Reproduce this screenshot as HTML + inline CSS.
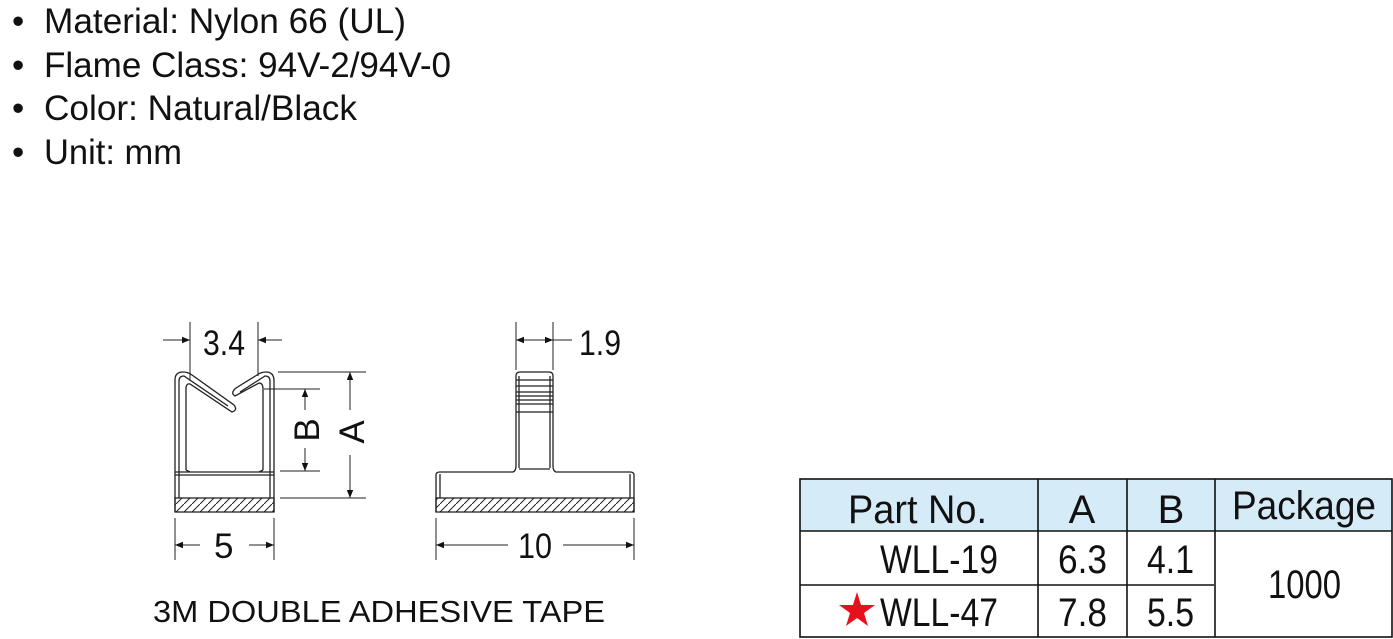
<!DOCTYPE html>
<html><head><meta charset="utf-8"><style>
html,body{margin:0;padding:0;background:#fff;}
svg{display:block;}
text{font-family:"Liberation Sans",Arial,sans-serif;fill:#111;}
</style></head><body>
<svg width="1393" height="639" viewBox="0 0 1393 639" xmlns="http://www.w3.org/2000/svg">
<defs>
<pattern id="h" width="8" height="8" patternUnits="userSpaceOnUse"><path d="M-2 10 L10 -2" stroke="#222" stroke-width="1"/></pattern>
<marker id="ar" viewBox="0 0 10 10" refX="10" refY="5" markerWidth="14" markerHeight="8" orient="auto-start-reverse" markerUnits="userSpaceOnUse"><path d="M0 1 L10 5 L0 9 Z" fill="#111"/></marker>
</defs>
<g font-size="35">
<text x="12" y="33">•</text><text x="44" y="33" textLength="362" lengthAdjust="spacingAndGlyphs">Material: Nylon 66 (UL)</text>
<text x="12" y="77">•</text><text x="44" y="77" textLength="407" lengthAdjust="spacingAndGlyphs">Flame Class: 94V-2/94V-0</text>
<text x="12" y="120">•</text><text x="44" y="120" textLength="313" lengthAdjust="spacingAndGlyphs">Color: Natural/Black</text>
<text x="12" y="164">•</text><text x="44" y="164" textLength="138" lengthAdjust="spacingAndGlyphs">Unit: mm</text>
</g>
<g fill="none" stroke="#222" stroke-width="1.3">
<path d="M175 512 V380 Q175 372 183 372 Q188 372 192 375 L234 405 Q238 410 232 412 L190 384 Q186 383 186 389 V470"/>
<path d="M179 498 V381 Q179 376 184 376 L228 406"/>
<path d="M274 512 V381 Q274 372 266 372 Q261 372 257 375 L236 388 Q230 393 235 396 L259 383 Q263 383 263 389 V470"/>
<path d="M270 498 V381 Q270 376 265 376 L240 392"/>
<path d="M186 470 L190 472 M263 470 L259 472"/>
<line x1="175" y1="472" x2="274" y2="472"/><line x1="175" y1="475" x2="274" y2="475"/>
<rect x="175" y="498" width="99" height="14" fill="url(#h)"/>
<g stroke-width="1">
<line x1="190" y1="322" x2="190" y2="380"/><line x1="258" y1="322" x2="258" y2="376"/>
<line x1="163" y1="340" x2="190" y2="340" marker-end="url(#ar)"/><line x1="282" y1="340" x2="258" y2="340" marker-end="url(#ar)"/>
<line x1="264" y1="389" x2="320" y2="389"/><line x1="280" y1="471" x2="320" y2="471"/>
<line x1="278" y1="372" x2="366" y2="372"/><line x1="280" y1="498" x2="366" y2="498"/>
<line x1="305" y1="410" x2="305" y2="389" marker-end="url(#ar)"/><line x1="305" y1="448" x2="305" y2="471" marker-end="url(#ar)"/>
<line x1="350" y1="410" x2="350" y2="372" marker-end="url(#ar)"/><line x1="350" y1="455" x2="350" y2="498" marker-end="url(#ar)"/>
<line x1="175" y1="518" x2="175" y2="560"/><line x1="274" y1="518" x2="274" y2="560"/>
<line x1="200" y1="545" x2="175" y2="545" marker-end="url(#ar)"/><line x1="249" y1="545" x2="274" y2="545" marker-end="url(#ar)"/>
</g>
</g>
<text x="203" y="355" font-size="35" textLength="42" lengthAdjust="spacingAndGlyphs">3.4</text>
<text x="214" y="558" font-size="35">5</text>
<text transform="translate(319,430) rotate(-90)" font-size="35" text-anchor="middle">B</text>
<text transform="translate(364,432) rotate(-90)" font-size="35" text-anchor="middle">A</text>
<g fill="none" stroke="#222" stroke-width="1.3">
<path d="M436 512 V475 Q436 472 440 472 H513 Q516 471 516 466 V376 Q516 372 520 372 H549 Q553 372 553 376 V466 Q553 471 556 472 H630 Q634 472 634 475 V512"/>
<line x1="519" y1="376" x2="519" y2="468"/><line x1="550" y1="376" x2="550" y2="468"/>
<line x1="440" y1="474" x2="440" y2="498"/><line x1="630" y1="474" x2="630" y2="498"/>
<line x1="516" y1="380" x2="553" y2="380"/><line x1="516" y1="386" x2="553" y2="386"/>
<line x1="516" y1="392" x2="553" y2="392"/><line x1="516" y1="396" x2="553" y2="396"/>
<line x1="516" y1="400" x2="553" y2="400"/><line x1="516" y1="404" x2="553" y2="404"/>
<line x1="516" y1="412" x2="553" y2="412"/>
<line x1="519" y1="469" x2="550" y2="469"/>
<rect x="436" y="498" width="198" height="14" fill="url(#h)"/>
<g stroke-width="1">
<line x1="516" y1="322" x2="516" y2="370"/><line x1="553" y1="322" x2="553" y2="370"/>
<line x1="535" y1="340" x2="516" y2="340" marker-end="url(#ar)"/><line x1="535" y1="340" x2="553" y2="340" marker-end="url(#ar)"/>
<line x1="553" y1="340" x2="572" y2="340"/>
<line x1="436" y1="518" x2="436" y2="560"/><line x1="634" y1="518" x2="634" y2="560"/>
<line x1="508" y1="545" x2="436" y2="545" marker-end="url(#ar)"/><line x1="563" y1="545" x2="634" y2="545" marker-end="url(#ar)"/>
</g>
</g>
<text x="579" y="355" font-size="35" textLength="42" lengthAdjust="spacingAndGlyphs">1.9</text>
<text x="518" y="558" font-size="35" textLength="34" lengthAdjust="spacingAndGlyphs">10</text>
<text x="153" y="622" font-size="31" textLength="452" lengthAdjust="spacingAndGlyphs">3M DOUBLE ADHESIVE TAPE</text>
<rect x="800" y="479" width="592" height="52" fill="#d6ebf8"/>
<g stroke="#111" stroke-width="1.6" fill="none">
<rect x="800" y="479" width="592" height="158"/>
<line x1="800" y1="531" x2="1392" y2="531"/>
<line x1="800" y1="585" x2="1214" y2="585"/>
<line x1="1038" y1="479" x2="1038" y2="637"/>
<line x1="1127" y1="479" x2="1127" y2="637"/>
<line x1="1215" y1="479" x2="1215" y2="637"/>
</g>
<g font-size="40">
<text x="848" y="523" textLength="139" lengthAdjust="spacingAndGlyphs">Part No.</text>
<text x="1082" y="523" text-anchor="middle">A</text>
<text x="1171" y="523" text-anchor="middle">B</text>
<text x="1232" y="519" textLength="144" lengthAdjust="spacingAndGlyphs">Package</text>
<text x="880" y="573" textLength="118" lengthAdjust="spacingAndGlyphs">WLL-19</text>
<text x="880" y="626" textLength="118" lengthAdjust="spacingAndGlyphs">WLL-47</text>
<text x="1058" y="573" textLength="49" lengthAdjust="spacingAndGlyphs">6.3</text>
<text x="1058" y="626" textLength="49" lengthAdjust="spacingAndGlyphs">7.8</text>
<text x="1147" y="573" textLength="47" lengthAdjust="spacingAndGlyphs">4.1</text>
<text x="1147" y="626" textLength="47" lengthAdjust="spacingAndGlyphs">5.5</text>
<text x="1268" y="598" textLength="73" lengthAdjust="spacingAndGlyphs">1000</text>
</g>
<polygon points="857,592 861,605 875,605 864,613 868,626 857,618 846,626 850,613 839,605 853,605" fill="#e8101c"/>
</svg>
</body></html>
